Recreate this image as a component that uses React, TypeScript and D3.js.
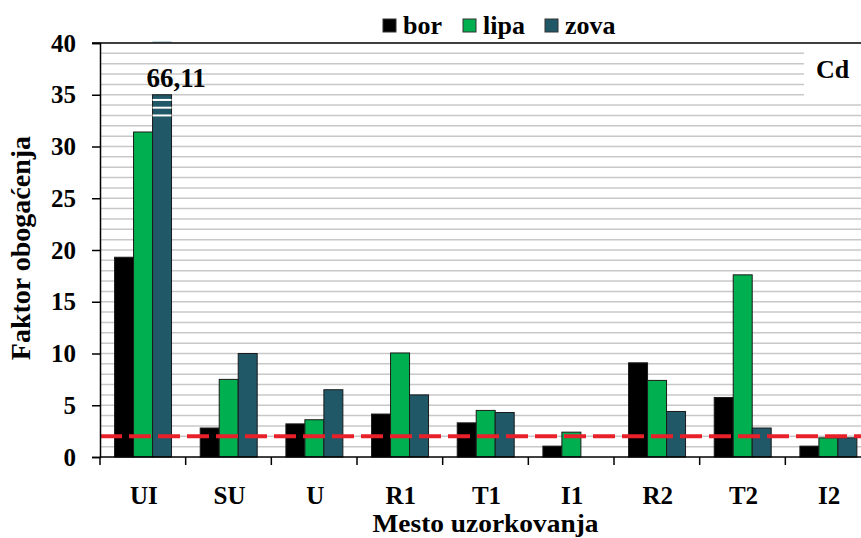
import React, { useEffect, useRef } from 'react';
import * as d3 from 'd3';

// sampling sites and species
const SITES = ['UI', 'SU', 'U', 'R1', 'T1', 'I1', 'R2', 'T2', 'I2'];
const SPECIES = ['bor', 'lipa', 'zova'];
const COLORS = ['#000000', '#00b050', '#215868'];

// enrichment factor per species
const BOR = [19.3, 2.8, 3.2, 4.15, 3.3, 1.05, 9.1, 5.75, 1.05];
const LIPA = [31.4, 7.5, 3.6, 10.05, 4.5, 2.4, 7.4, 17.6, 1.85];
const ZOVA = [66.11, 10.0, 6.5, 6.0, 4.3, 0, 4.4, 2.8, 1.85];

const Y_TICKS = [0, 5, 10, 15, 20, 25, 30, 35, 40];
const THRESHOLD = 2;
const Y_CUT = 35; // bars above this are drawn broken
const BREAK_MARKS = [34.5, 33.75, 33.0];

const W = 861, H = 538;
const FONT = 'Liberation Serif, Tinos, Times New Roman, Times, DejaVu Serif, serif';

const App = () => {
  const ref = useRef(null);

  useEffect(() => {
    const svg = d3.select(ref.current);
    svg.selectAll('*').remove();

    const left = 100, right = 871, top = 43, bottom = 457;

    const y = d3.scaleLinear().domain([0, 40]).range([bottom, top]);
    const x0 = d3.scaleBand().domain(SITES).range([left, right]);
    const bw = x0.bandwidth();
    const x1 = d3.scaleBand().domain(SPECIES).range([bw * 0.17, bw * 0.835]);

    // grid lines each unit
    const grid = d3.range(1, 40);
    svg.append('g').selectAll('line').data(grid).enter().append('line')
      .attr('x1', left).attr('x2', W)
      .attr('y1', d => y(d)).attr('y2', d => y(d))
      .attr('stroke', '#c8c8c8').attr('stroke-width', 1.5);

    // white box behind the element label
    svg.append('rect').attr('x', 804).attr('y', top + 1).attr('width', W - 804).attr('height', y(34.5) - top - 1)
      .attr('fill', '#fff');
    svg.append('text').attr('x', 816).attr('y', 78).text('Cd')
      .style('font-family', FONT).attr('font-weight', 'bold').attr('font-size', 26).attr('fill', '#000');

    const series = [BOR, LIPA, ZOVA];
    const rows = [];
    SITES.forEach((s, i) => {
      SPECIES.forEach((sp, j) => {
        rows.push({ site: s, sp, j, v: series[j][i] });
      });
    });

    const bars = svg.append('g');
    bars.selectAll('rect').data(rows.filter(d => d.v > 0)).enter().append('rect')
      .attr('x', d => x0(d.site) + x1(d.sp))
      .attr('width', x1.bandwidth())
      .attr('y', d => y(Math.min(d.v, Y_CUT)))
      .attr('height', d => bottom - y(Math.min(d.v, Y_CUT)))
      .attr('fill', d => COLORS[d.j])
      .attr('stroke', '#1a1a1a').attr('stroke-width', 1);

    // break marks on the clipped bar
    const broken = rows.filter(d => d.v > Y_CUT);
    broken.forEach(d => {
      const bx = x0(d.site) + x1(d.sp);
      svg.append('g').selectAll('line').data(BREAK_MARKS).enter().append('line')
        .attr('x1', bx).attr('x2', bx + x1.bandwidth())
        .attr('y1', m => y(m)).attr('y2', m => y(m))
        .attr('stroke', '#fff').attr('stroke-width', 2);
      svg.append('line').attr('x1', bx).attr('x2', bx + x1.bandwidth())
        .attr('y1', top - 1).attr('y2', top - 1)
        .attr('stroke', '#a8cbd5').attr('stroke-width', 1.5);
      svg.append('text').attr('x', bx - 6).attr('y', 87)
        .text(d3.format('.2f')(d.v).replace('.', ','))
        .style('font-family', FONT).attr('font-weight', 'bold').attr('font-size', 27).attr('fill', '#000');
    });

    // threshold line
    svg.append('line').attr('x1', left).attr('x2', W)
      .attr('y1', y(THRESHOLD)).attr('y2', y(THRESHOLD))
      .attr('stroke', '#e8202a').attr('stroke-width', 4).attr('stroke-dasharray', '22,7');

    // top border
    svg.append('line').attr('x1', left - 8).attr('x2', W).attr('y1', top).attr('y2', top)
      .attr('stroke', '#000').attr('stroke-width', 1.5);

    // y axis
    const yAxis = svg.append('g').attr('transform', `translate(${left},0)`)
      .call(d3.axisLeft(y).tickValues(Y_TICKS).tickSize(8).tickPadding(16));
    yAxis.attr('font-family', null);
    yAxis.select('.domain').attr('stroke', '#000').attr('stroke-width', 1.5);
    yAxis.selectAll('.tick line').attr('stroke', '#000').attr('stroke-width', 1.5);
    yAxis.selectAll('text').style('font-family', FONT).attr('font-weight', 'bold')
      .attr('font-size', 25).attr('fill', '#000');

    // x axis: ticks between categories
    const xAxis = svg.append('g').attr('transform', `translate(0,${bottom})`);
    xAxis.append('line').attr('x1', left).attr('x2', W).attr('y1', 0).attr('y2', 0)
      .attr('stroke', '#000').attr('stroke-width', 1.5);
    xAxis.selectAll('line.tk').data(SITES).enter().append('line').attr('class', 'tk')
      .attr('x1', d => x0(d)).attr('x2', d => x0(d)).attr('y1', 0).attr('y2', 8)
      .attr('stroke', '#000').attr('stroke-width', 1.5);
    xAxis.selectAll('text').data(SITES).enter().append('text')
      .attr('x', d => x0(d) + bw / 2 + 1).attr('y', 47)
      .attr('text-anchor', 'middle').text(d => d)
      .style('font-family', FONT).attr('font-weight', 'bold').attr('font-size', 25).attr('fill', '#000');

    // axis titles
    svg.append('text').attr('x', (left + right) / 2).attr('y', 532).attr('text-anchor', 'middle')
      .text('Mesto uzorkovanja')
      .attr('textLength', 226).attr('lengthAdjust', 'spacingAndGlyphs')
      .style('font-family', FONT).attr('font-weight', 'bold').attr('font-size', 25).attr('fill', '#000');
    svg.append('text').attr('transform', `translate(30,${(top + bottom) / 2 - 2}) rotate(-90)`)
      .attr('text-anchor', 'middle').text('Faktor obogaćenja')
      .style('font-family', FONT).attr('font-weight', 'bold').attr('font-size', 28).attr('fill', '#000');

    // legend
    const lx = [383, 463, 545];
    const lg = svg.append('g');
    SPECIES.forEach((sp, j) => {
      lg.append('rect').attr('x', lx[j]).attr('y', 19).attr('width', 13).attr('height', 13)
        .attr('fill', COLORS[j]).attr('stroke', '#333').attr('stroke-width', 1);
      lg.append('text').attr('x', lx[j] + 20).attr('y', 34).text(sp)
        .style('font-family', FONT).attr('font-weight', 'bold').attr('font-size', 26).attr('fill', '#000');
    });
  }, []);

  return (
    <div style={{ position: 'absolute', left: 0, top: 0 }}>
      <svg ref={ref} width={W} height={H} style={{ display: 'block', background: '#fff' }}></svg>
    </div>
  );
};

export default App;
